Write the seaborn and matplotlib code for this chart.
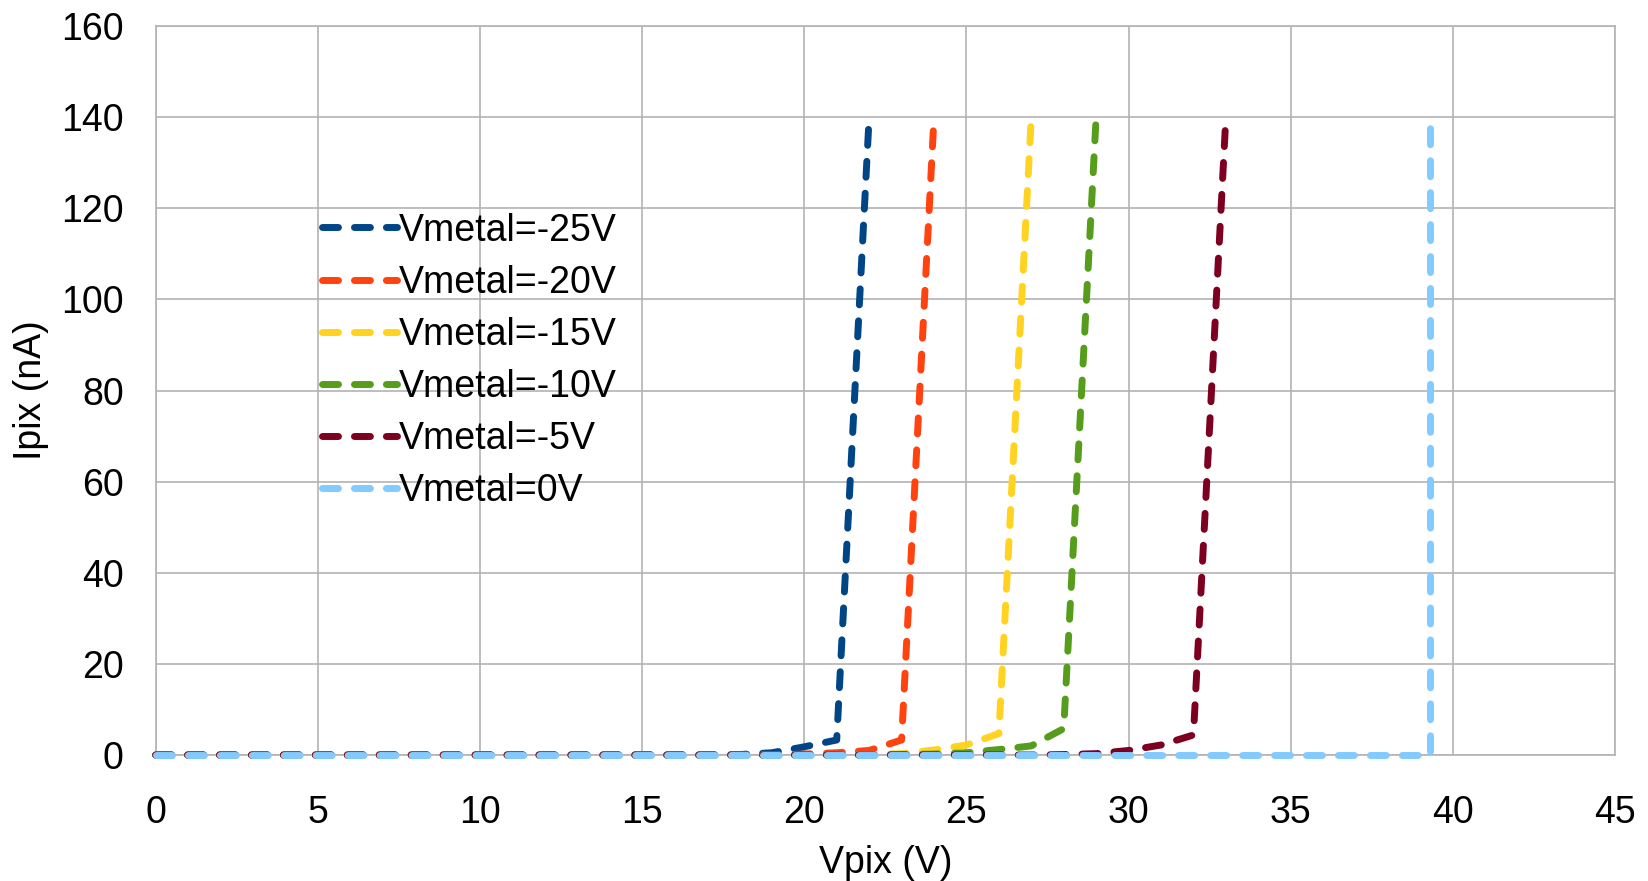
import numpy as np
import pandas as pd
import matplotlib
matplotlib.use("Agg")
import matplotlib.pyplot as plt
import seaborn as sns

# Vpix sweep (V) and measured Ipix (nA) for each Vmetal setting
labels = ['Vmetal=-25V', 'Vmetal=-20V', 'Vmetal=-15V', 'Vmetal=-10V', 'Vmetal=-5V', 'Vmetal=0V']
colors = ['#004586', '#ff420e', '#ffd320', '#579d1c', '#7e0021', '#83caff']

vpix_m25 = list(range(0, 23))
ipix_m25 = [0] * 18 + [0.1, 0.5, 1.8, 3.3, 140]

vpix_m20 = list(range(0, 25))
ipix_m20 = [0] * 20 + [0.2, 0.5, 1.0, 3.3, 140]

vpix_m15 = list(range(0, 28))
ipix_m15 = [0] * 22 + [0.1, 0.3, 1.1, 2.2, 4.7, 140]

vpix_m10 = list(range(0, 30))
ipix_m10 = [0] * 23 + [0.1, 0.2, 0.5, 1.2, 2.0, 5.8, 140]

vpix_m5 = list(range(0, 34))
ipix_m5 = [0] * 28 + [0.1, 0.3, 1.0, 2.2, 4.4, 140]

vpix_0 = list(range(0, 40)) + [39.3, 39.3]
ipix_0 = [0] * 41 + [140]

series = [(vpix_m25, ipix_m25), (vpix_m20, ipix_m20), (vpix_m15, ipix_m15),
          (vpix_m10, ipix_m10), (vpix_m5, ipix_m5), (vpix_0, ipix_0)]

sns.set_theme(style="whitegrid")
plt.rcParams['font.family'] = ['Liberation Sans', 'DejaVu Sans']
plt.rcParams['text.color'] = 'black'
plt.rcParams['axes.labelcolor'] = 'black'

fig = plt.figure(figsize=(16.49, 8.81), dpi=100)
ax = fig.add_axes([0.0944, 0.143, 0.885, 0.8275])

dash = (0, (2.3, 2.3))
for (vx, iy), lab, col in zip(series, labels, colors):
    df = pd.DataFrame({'Vpix': vx, 'Ipix': iy})
    sns.lineplot(data=df, x='Vpix', y='Ipix', ax=ax, color=col, label=lab,
                 estimator=None, sort=False, linewidth=5.0)

for line in ax.get_lines():
    line.set_linestyle(dash)
    line.set_dash_capstyle('round')
    line.set_solid_capstyle('round')
    line.set_clip_on(False)
    line.set_zorder(3)

ax.set_xlim(0, 45)
ax.set_ylim(0, 160)
ax.set_xticks(np.arange(0, 46, 5))
ax.set_yticks(np.arange(0, 161, 20))
ax.grid(True, color='#b3b3b3', linewidth=1.2)
for sp in ax.spines.values():
    sp.set_color('#b3b3b3')
    sp.set_linewidth(1.2)
    sp.set_zorder(1)
ax.tick_params(axis='both', which='major', labelsize=27, length=8, width=1.2,
               color='#b3b3b3', labelcolor='black', direction='out')
ax.tick_params(axis='x', pad=21)
ax.tick_params(axis='y', pad=15)
ax.set_xlabel('Vpix (V)', fontsize=27, labelpad=10)
ax.set_ylabel('Ipix (nA)', fontsize=27, labelpad=9)

leg = ax.legend(loc='upper left', bbox_to_anchor=(0.114, 0.744), frameon=False,
                fontsize=27, handlelength=2.0, handletextpad=0.05, labelspacing=0.43,
                borderaxespad=0, borderpad=0)
for h in leg.get_lines():
    h.set_linestyle(dash)
    h.set_dash_capstyle('round')
for t in leg.get_texts():
    t.set_color('black')

fig.savefig('out.png', dpi=100)
